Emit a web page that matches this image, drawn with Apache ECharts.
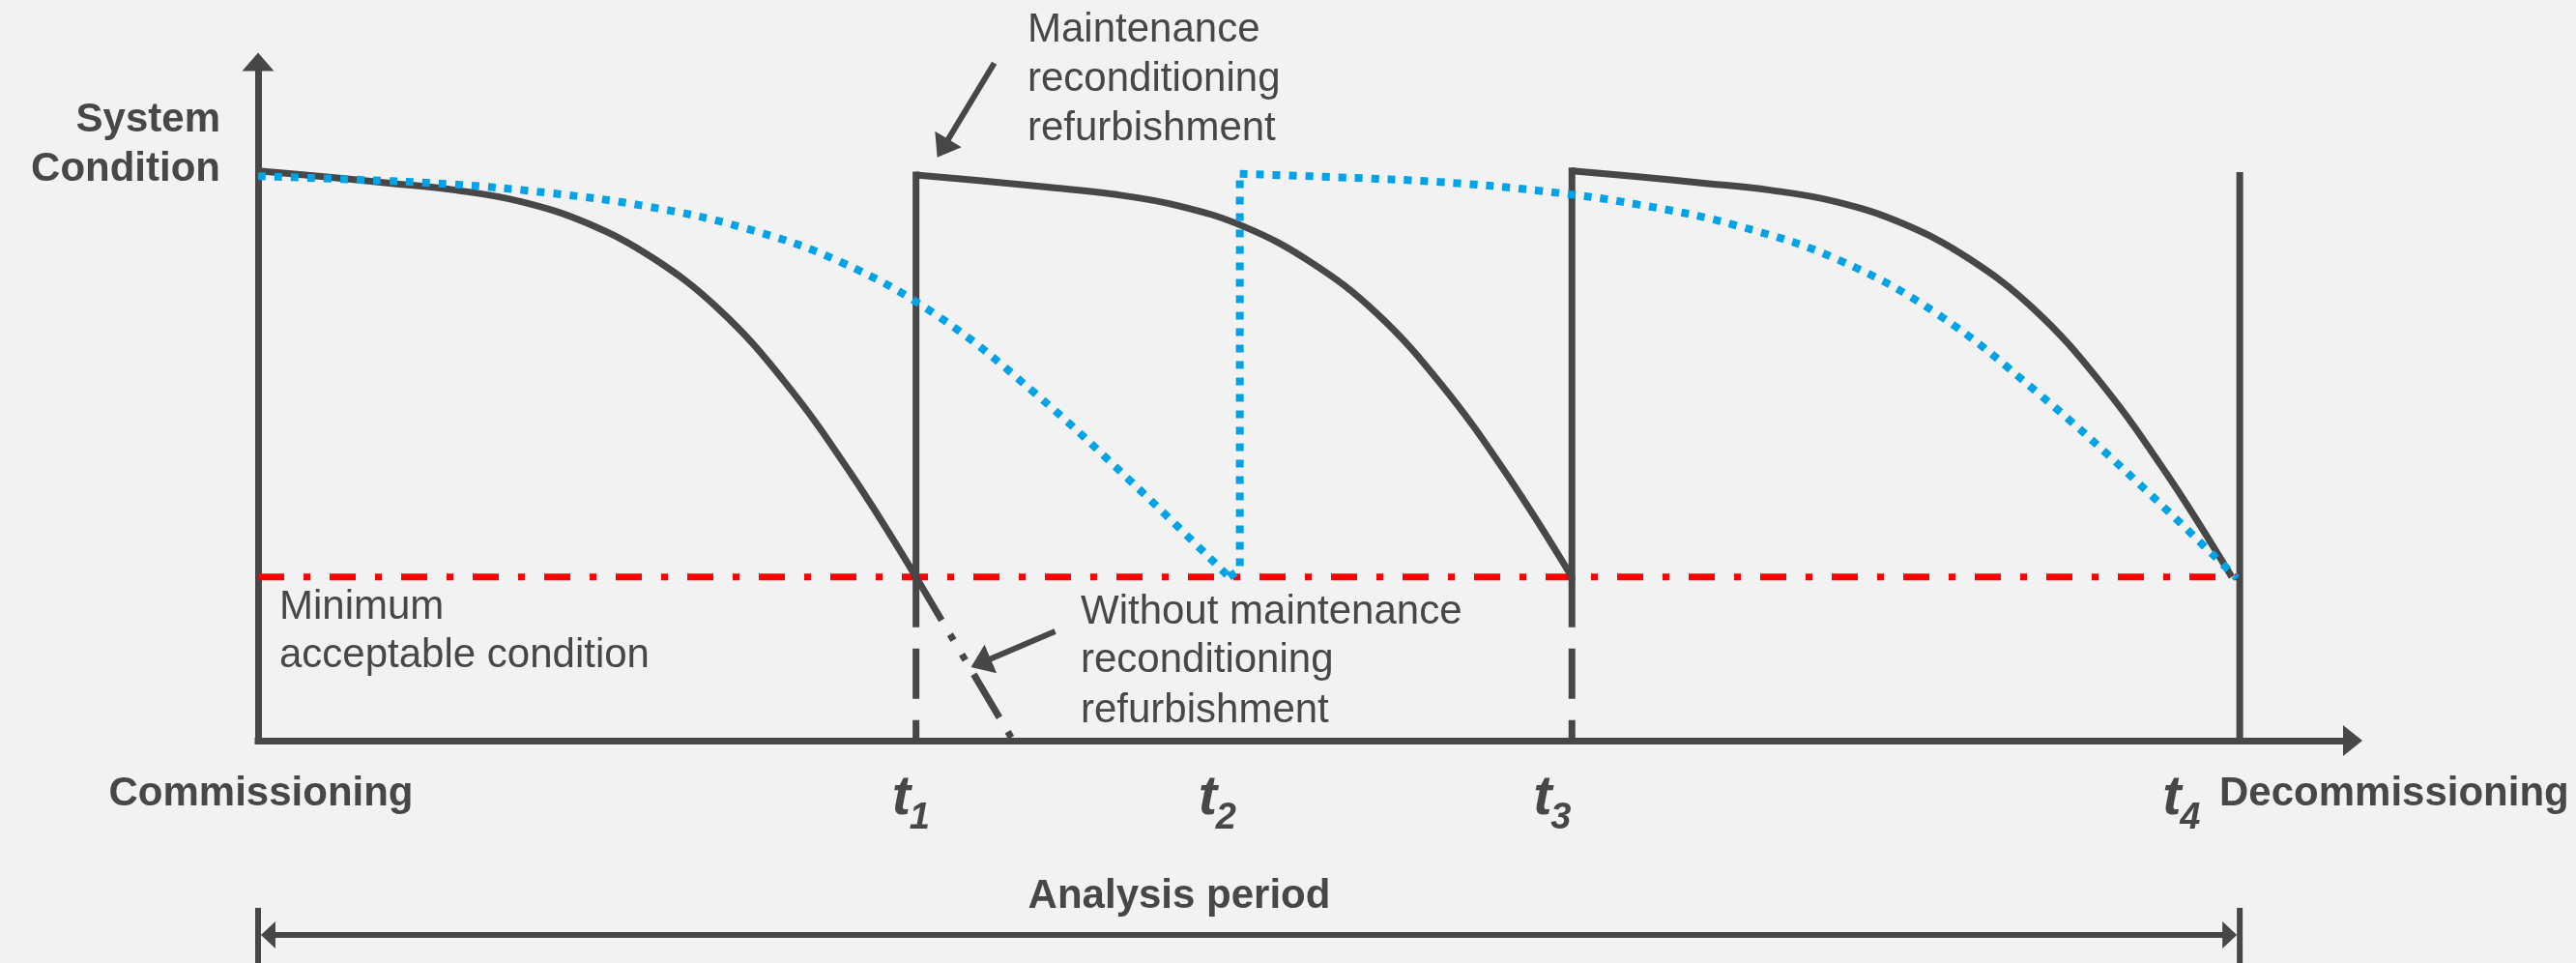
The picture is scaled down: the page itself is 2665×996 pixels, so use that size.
<!DOCTYPE html>
<html>
<head>
<meta charset="utf-8">
<title>System condition over the analysis period</title>
<script src="https://cdn.jsdelivr.net/npm/echarts@6/dist/echarts.min.js"></script>
<style>
html, body { margin: 0; padding: 0; background: #f2f2f2; }
#chart { width: 2665px; height: 996px; }
</style>
</head>
<body>
<div id="chart"></div>
<script>
// time axis: 0 = commissioning, 100 = t4 (decommissioning)
const eventTimes = [33.2, 49.5, 66.3, 100];
const eventNames = ['1', '2', '3', '4'];
const minCondition = 28.2;

// solid curve: maintenance / reconditioning / refurbishment at t1 and t3
const withMaint1 = [[0, 98.2], [3.32, 97.2], [6.64, 96.1], [9.96, 94.9], [13.28, 92.9], [16.6, 89.2],
  [19.92, 83.2], [23.24, 74.4], [26.56, 61.9], [29.88, 46.2], [33.2, 28.2]];
const withMaint2 = [[33.2, 97.5], [36.51, 96.5], [39.82, 95.4], [43.13, 94.2], [46.44, 92.2], [49.75, 88.6],
  [53.06, 82.6], [56.37, 73.9], [59.68, 61.5], [62.99, 46.0], [66.3, 28.2]];
const withMaint3 = [[66.3, 98.2], [69.63, 97.2], [72.96, 96.1], [76.29, 94.9], [79.62, 92.9], [82.95, 89.2],
  [86.28, 83.2], [89.61, 74.4], [92.94, 61.9], [96.27, 46.2], [99.6, 28.2]];
// continuation of the first curve without intervention
const noMaint = [[33.2, 28.2], [38.1, 0]];

// dotted curve: slower decay, one renewal at t2
const slowDecay1 = [[0, 97.3], [4.9, 96.7], [9.8, 95.9], [14.7, 94.4], [19.6, 92.1], [24.5, 88.4],
  [29.4, 82.5], [34.3, 73.2], [39.2, 59.9], [44.1, 44.5], [49.0, 28.2]];
const slowJump = [[49.0, 28.2], [49.54, 29.5], [49.54, 97.7]];
const slowDecay2 = [[49.54, 97.7], [54.57, 97.1], [59.6, 96.3], [64.63, 94.8], [69.66, 92.4], [74.7, 88.7],
  [79.73, 82.9], [84.76, 73.5], [89.79, 60.0], [94.82, 44.6], [99.85, 28.0]];

// annotation arrows (tail, head) in chart units
const maintArrow = [[37.15, 116.8], [34.55, 102.1]];
const noMaintArrow = [[40.22, 18.83], [36.47, 13.38]];
// analysis period bar (lower grid)
const periodBarTop = 8.64;
const periodArrow = [[0.51, 4.39], [99.49, 4.39]];

const dark = '#474747';
const blue = '#00a2e8';
const red = '#ff0000';
const fontFamily = '"Liberation Sans", Arial, sans-serif';

const solid = { color: dark, width: 7, type: 'solid', cap: 'butt' };
const riser = { color: dark, width: 7, type: 'solid', cap: 'square' };
const below = { color: dark, width: 7, type: [52, 22], cap: 'butt' };
const dotted = { color: blue, width: 8, type: [8, 9], cap: 'butt' };

function plain(name, data, lineStyle, extra) {
  return Object.assign({
    name: name,
    type: 'line',
    data: data,
    symbol: 'none',
    showSymbol: false,
    clip: false,
    silent: true,
    lineStyle: lineStyle,
    z: 3
  }, extra || {});
}

function label(text, x, y, size, weight, align, fontStyle) {
  return {
    type: 'text',
    x: x,
    y: y,
    silent: true,
    style: {
      text: text,
      fill: dark,
      font: (fontStyle || 'normal') + ' ' + weight + ' ' + size + 'px ' + fontFamily,
      align: align,
      verticalAlign: 'middle',
      textAlign: align,
      textVerticalAlign: 'middle'
    }
  };
}

const baseGraphic = [
  label('System', 228, 124, 42, 'bold', 'right'),
  label('Condition', 228, 175, 42, 'bold', 'right'),
  label('Maintenance', 1063, 31, 42, 'normal', 'left'),
  label('reconditioning', 1063, 82, 42, 'normal', 'left'),
  label('refurbishment', 1063, 133, 42, 'normal', 'left'),
  label('Minimum', 289, 628, 42, 'normal', 'left'),
  label('acceptable condition', 289, 678, 42, 'normal', 'left'),
  label('Without maintenance', 1118, 633, 42, 'normal', 'left'),
  label('reconditioning', 1118, 683, 42, 'normal', 'left'),
  label('refurbishment', 1118, 735, 42, 'normal', 'left'),
  label('Commissioning', 270, 821, 42, 'bold', 'center'),
  label('Decommissioning', 2296, 821, 42, 'bold', 'left'),
  label('Analysis period', 1220, 927, 42, 'bold', 'center')
];

const chart = echarts.init(document.getElementById('chart'));

const option = {
  backgroundColor: '#f2f2f2',
  animation: false,
  grid: [
    { left: 267, right: 231, top: 64, bottom: 230 },
    { left: 267, right: 231, top: 930, bottom: 0 }
  ],
  xAxis: [
    {
      type: 'value', min: 0, max: 105.7,
      axisLine: { show: true, symbol: ['none', 'triangle'], symbolSize: [32, 20], lineStyle: { color: dark, width: 7, cap: 'square' } },
      axisTick: { show: false }, axisLabel: { show: false }, splitLine: { show: false }
    },
    { type: 'value', gridIndex: 1, min: 0, max: 105.7, show: false }
  ],
  yAxis: [
    {
      type: 'value', min: 0, max: 117,
      axisLine: { show: true, symbol: ['none', 'triangle'], symbolSize: [33, 19], lineStyle: { color: dark, width: 7, cap: 'square' } },
      axisTick: { show: false }, axisLabel: { show: false }, splitLine: { show: false }
    },
    { type: 'value', gridIndex: 1, min: 0, max: 10, show: false }
  ],
  series: [
    plain('Minimum acceptable condition', [[0, minCondition], [eventTimes[3], minCondition]],
      { color: red, width: 7, type: [27, 20, 7, 20], cap: 'butt' }, { z: 1 }),
    plain('With maintenance 1', withMaint1, solid, { smooth: 0.4 }),
    plain('Renewal t1', [[eventTimes[0], minCondition], [eventTimes[0], withMaint2[0][1]]], riser),
    plain('With maintenance 2', withMaint2, solid, { smooth: 0.4 }),
    plain('Renewal t3', [[eventTimes[2], minCondition], [eventTimes[2], withMaint3[0][1]]], riser),
    plain('With maintenance 3', withMaint3, solid, { smooth: 0.4 }),
    plain('End t4', [[eventTimes[3], 0], [eventTimes[3], 98.0]], solid),
    plain('Below t1', [[eventTimes[0], minCondition], [eventTimes[0], 0]], below),
    plain('Below t3', [[eventTimes[2], minCondition], [eventTimes[2], 0]], below),
    plain('Without maintenance', noMaint, { color: dark, width: 7, type: [52, 17, 7, 17, 7, 17], cap: 'butt' }),
    plain('Slow decay 1', slowDecay1, dotted, { smooth: 0.4, z: 4 }),
    plain('Slow renewal t2', slowJump, dotted, { z: 4 }),
    plain('Slow decay 2', slowDecay2, dotted, { smooth: 0.4, z: 4 }),
    plain('annotations', [], solid, {
      z: 5,
      markLine: {
        silent: true,
        animation: false,
        symbol: ['none', 'triangle'],
        symbolSize: [32, 22],
        label: { show: false },
        emphasis: { disabled: true },
        lineStyle: { color: dark, width: 6, type: 'solid' },
        data: [
          [{ coord: maintArrow[0] }, { coord: maintArrow[1] }],
          [{ coord: noMaintArrow[0] }, { coord: noMaintArrow[1] }]
        ]
      }
    }),
    plain('Period start', [[0, 0], [0, periodBarTop]], { color: dark, width: 6, type: 'solid' }, {
      xAxisIndex: 1, yAxisIndex: 1,
      markLine: {
        silent: true,
        animation: false,
        symbol: ['triangle', 'triangle'],
        symbolSize: [28, 15],
        label: { show: false },
        emphasis: { disabled: true },
        lineStyle: { color: dark, width: 6, type: 'solid' },
        data: [[{ coord: periodArrow[0] }, { coord: periodArrow[1] }]]
      }
    }),
    plain('Period end', [[eventTimes[3], 0], [eventTimes[3], periodBarTop]], { color: dark, width: 6, type: 'solid' },
      { xAxisIndex: 1, yAxisIndex: 1 })
  ],
  graphic: baseGraphic
};

chart.setOption(option);

// t1..t4 labels sit a little left of their event lines
const tLabelShift = [-25, -42, -40, -80];
const tLabels = [];
eventTimes.forEach(function (t, i) {
  const px = chart.convertToPixel({ xAxisIndex: 0 }, t);
  tLabels.push(label('t', px + tLabelShift[i], 826, 58, 'bold', 'left', 'italic'));
  tLabels.push(label(eventNames[i], px + tLabelShift[i] + 18, 847, 38, 'bold', 'left', 'italic'));
});
chart.setOption({ graphic: baseGraphic.concat(tLabels) });
</script>
</body>
</html>
